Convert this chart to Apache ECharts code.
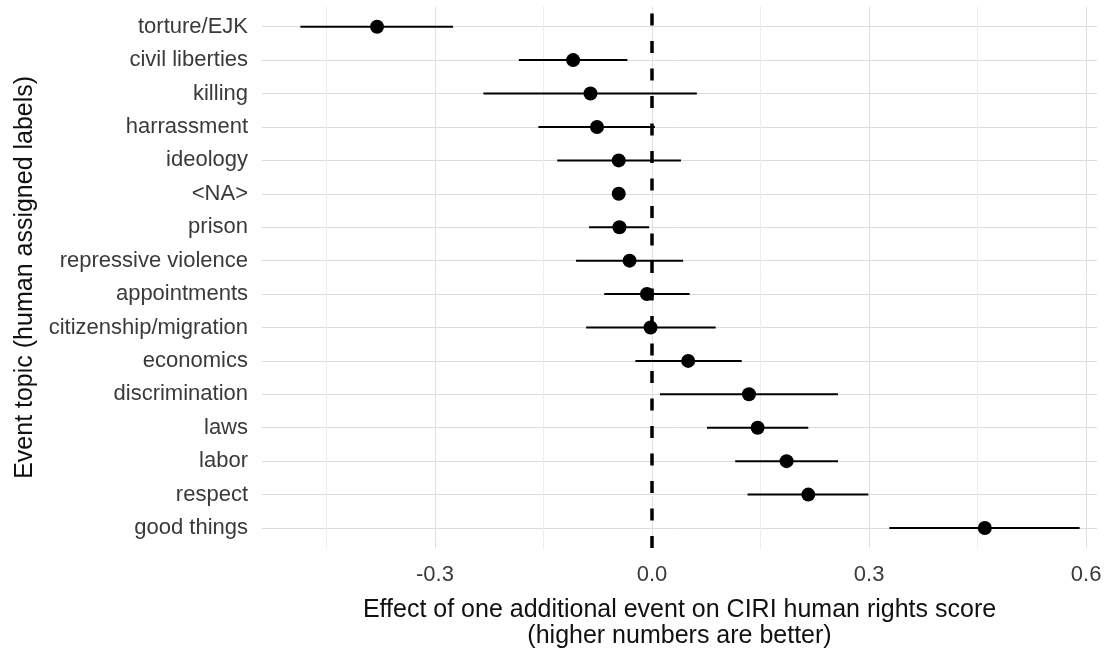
<!DOCTYPE html>
<html>
<head>
<meta charset="utf-8">
<script src="https://cdn.jsdelivr.net/npm/echarts@6/dist/echarts.min.js"></script>
<style>
  html, body { margin: 0; padding: 0; background: #fff; }
  #chart { width: 1110px; height: 648px; }
</style>
</head>
<body>
<div id="chart"></div>
<script>
// categories, top to bottom
const topics = ['torture/EJK', 'civil liberties', 'killing', 'harrassment', 'ideology', '<NA>',
  'prison', 'repressive violence', 'appointments', 'citizenship/migration', 'economics',
  'discrimination', 'laws', 'labor', 'respect', 'good things'];
// point estimates and interval ends
const estimate = [-0.380, -0.109, -0.085, -0.076, -0.046, -0.046, -0.045, -0.031, -0.007, -0.002,
  0.050, 0.134, 0.146, 0.186, 0.216, 0.460];
const lower = [-0.486, -0.184, -0.233, -0.157, -0.131, null, -0.087, -0.105, -0.066, -0.091,
  -0.023, 0.011, 0.076, 0.115, 0.132, 0.328];
const upper = [-0.275, -0.034, 0.062, 0.004, 0.040, null, -0.004, 0.043, 0.052, 0.088,
  0.124, 0.257, 0.216, 0.257, 0.299, 0.591];
// x ticks
const majorTicks = [-0.3, 0, 0.3, 0.6];
const minorTicks = [-0.45, -0.15, 0.15, 0.45];
const xMin = -0.539, xMax = 0.615;

const FONT = '"Liberation Sans", Arial, Helvetica, sans-serif';

const chart = echarts.init(document.getElementById('chart'));

// vertical grid lines live in the taller background grid
const gridLines = majorTicks.map(v => ({ xAxis: v, lineStyle: { color: '#e0e0e0', width: 1, type: 'solid' } }))
  .concat(minorTicks.map(v => ({ xAxis: v, lineStyle: { color: '#ededed', width: 1, type: 'solid' } })));

const bars = [];
topics.forEach((t, i) => {
  if (lower[i] != null) bars.push([lower[i], upper[i], i]);
});

chart.setOption({
  animation: false,
  textStyle: { fontFamily: FONT },
  grid: [
    { left: 262, right: 13, top: 6.6, bottom: 100, outerBoundsMode: 'none', containLabel: false },
    { left: 262, right: 13, top: 26.7, bottom: 120, outerBoundsMode: 'none', containLabel: false }
  ],
  xAxis: [
    {
      type: 'value', gridIndex: 0, min: xMin, max: xMax,
      axisLine: { show: false }, axisTick: { show: false }, splitLine: { show: false },
      axisLabel: {
        customValues: majorTicks, color: '#3a3a3a', fontSize: 22, margin: 16,
        fontFamily: FONT, formatter: v => v.toFixed(1)
      },
      name: 'Effect of one additional event on CIRI human rights score\n(higher numbers are better)',
      nameLocation: 'middle', nameGap: 49,
      nameTextStyle: { color: '#111', fontSize: 25, lineHeight: 26, fontFamily: FONT }
    },
    { type: 'value', gridIndex: 1, min: xMin, max: xMax, show: false }
  ],
  yAxis: [
    { type: 'value', gridIndex: 0, min: 0, max: 1, show: false },
    {
      type: 'category', gridIndex: 1, data: topics, inverse: true, boundaryGap: false,
      axisLine: { show: false }, axisTick: { show: false },
      axisLabel: { color: '#3a3a3a', fontSize: 22, margin: 14, fontFamily: FONT },
      splitLine: { show: true, lineStyle: { color: '#dcdcdc', width: 1 } },
      name: 'Event topic (human assigned labels)', nameLocation: 'middle', nameGap: 222,
      nameTextStyle: { color: '#111', fontSize: 25, fontFamily: FONT }
    }
  ],
  series: [
    {
      type: 'line', xAxisIndex: 0, yAxisIndex: 0, data: [], silent: true, z: 1,
      markLine: { z: 1, symbol: 'none', silent: true, label: { show: false }, animation: false, data: gridLines }
    },
    {
      type: 'line', xAxisIndex: 0, yAxisIndex: 0, data: [], silent: true, z: 2,
      markLine: {
        z: 2, symbol: 'none', silent: true, label: { show: false }, animation: false,
        data: [{ xAxis: 0, lineStyle: { color: '#000', width: 3.5, type: [12, 15.5] } }]
      }
    },
    {
      type: 'custom', xAxisIndex: 1, yAxisIndex: 1, data: bars, z: 3,
      encode: { x: [0, 1], y: 2 },
      renderItem: function (params, api) {
        const p1 = api.coord([api.value(0), api.value(2)]);
        const p2 = api.coord([api.value(1), api.value(2)]);
        return {
          type: 'line',
          shape: { x1: p1[0], y1: p1[1], x2: p2[0], y2: p2[1] },
          style: { stroke: '#000', lineWidth: 2 }
        };
      }
    },
    {
      type: 'scatter', xAxisIndex: 1, yAxisIndex: 1, z: 4,
      data: estimate.map((v, i) => [v, i]),
      symbol: 'circle', symbolSize: 14,
      itemStyle: { color: '#000', opacity: 1 }
    }
  ]
});
</script>
</body>
</html>
